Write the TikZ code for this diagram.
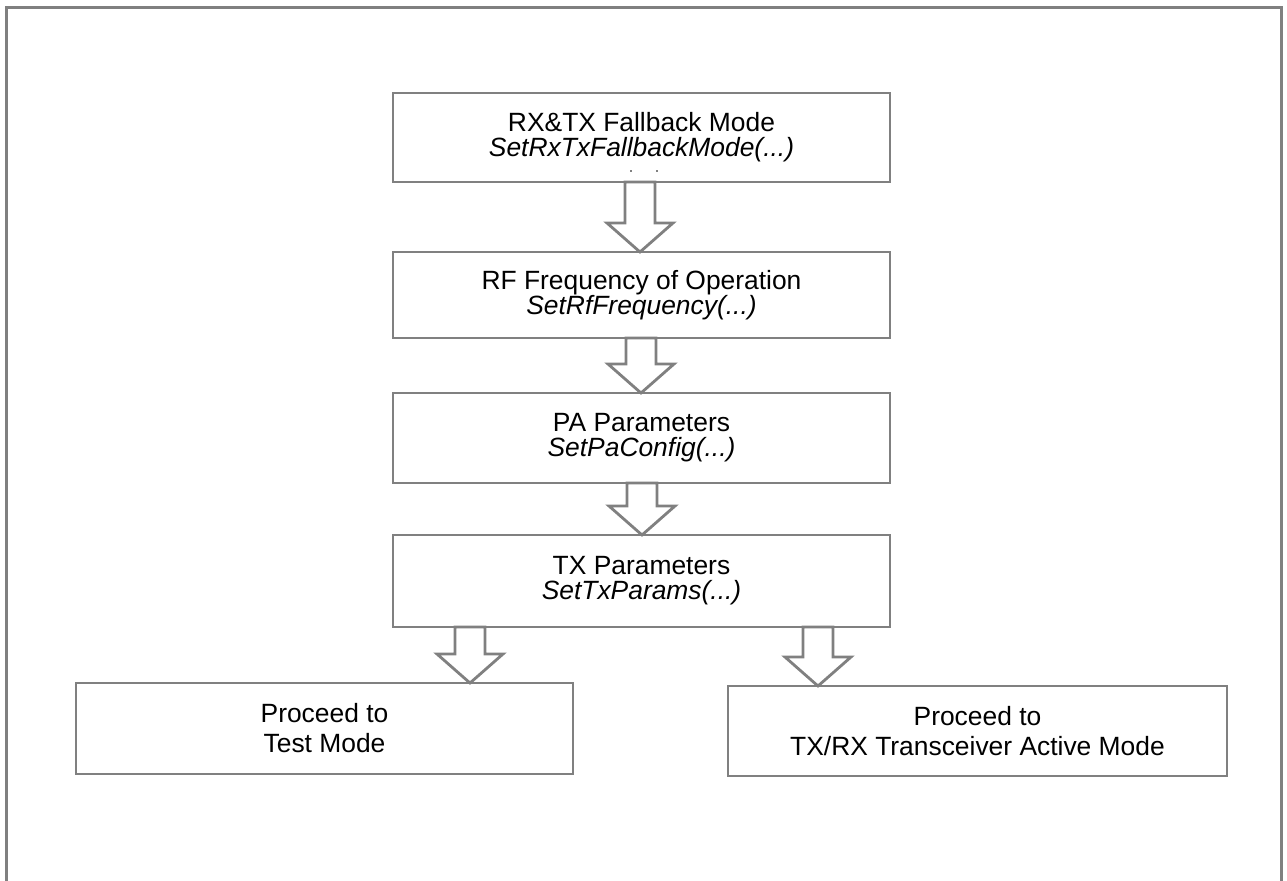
\documentclass[tikz,border=0pt]{standalone}
\usepackage{fontspec}
\setmainfont{Liberation Sans}
\usetikzlibrary{calc}
\definecolor{framegray}{HTML}{808080}
\tikzset{
  stepbox/.style={draw=framegray, line width=1.4pt, fill=white, rectangle,
    inner sep=0pt, outer sep=0pt, align=center,
    font=\fontsize{13.2}{12.6}\selectfont, minimum width=248.5pt},
  endbox/.style={stepbox, font=\fontsize{13.2}{15}\selectfont},
  barrow/.style={draw=framegray, line width=1.4pt, fill=white, line join=miter}
}
\newcommand\blockarr[3]{%
  \draw[barrow] let \p3=(#1), \p1=(#2.south), \p2=(#3.north) in
   (\x3-7.5pt,\y1) -- (\x3-7.5pt,\y2+14.5pt) -- (\x3-16.5pt,\y2+14.5pt) --
   (\x3,\y2) -- (\x3+16.5pt,\y2+14.5pt) -- (\x3+7.5pt,\y2+14.5pt) --
   (\x3+7.5pt,\y1) -- cycle;
}
\begin{document}
\begin{tikzpicture}[x=0.5pt,y=-0.5pt]
\useasboundingbox (0,0) rectangle (1287,880);
\fill[white] (0,0) rectangle (1287,880);
\draw[framegray, line width=1.5pt] (6,900) -- (6,7) -- (1281,7) -- (1281,900);

\node[stepbox, minimum height=44.5pt] (b1) at (641.5,137.5)
  {RX\&TX Fallback Mode\\\textit{SetRxTxFallbackMode(...)}};
\node[stepbox, minimum height=43pt] (b2) at (641.5,295)
  {RF Frequency of Operation\\\textit{SetRfFrequency(...)}};
\node[stepbox, minimum height=45pt] (b3) at (641.5,438)
  {PA Parameters\\\textit{SetPaConfig(...)}};
\node[stepbox, minimum height=46pt] (b4) at (641.5,581)
  {TX Parameters\\\textit{SetTxParams(...)}};
\node[endbox, minimum height=45.5pt] (b5) at (324.5,728.5)
  {Proceed to\\Test Mode};
\node[endbox, minimum height=45pt, minimum width=249.5pt] (b6) at (977.5,731)
  {Proceed to\\TX/RX Transceiver Active Mode};

\coordinate (ax1) at (640,0);
\coordinate (ax2) at (641,0);
\coordinate (ax3) at (642,0);
\coordinate (ax4) at (470,0);
\coordinate (ax5) at (818,0);

\blockarr{ax1}{b1}{b2}
\blockarr{ax2}{b2}{b3}
\blockarr{ax3}{b3}{b4}
\blockarr{ax4}{b4}{b5}
\blockarr{ax5}{b4}{b6}

\fill[black] (631,171) circle[radius=0.8];
\fill[black] (657,171) circle[radius=0.8];
\end{tikzpicture}
\end{document}
